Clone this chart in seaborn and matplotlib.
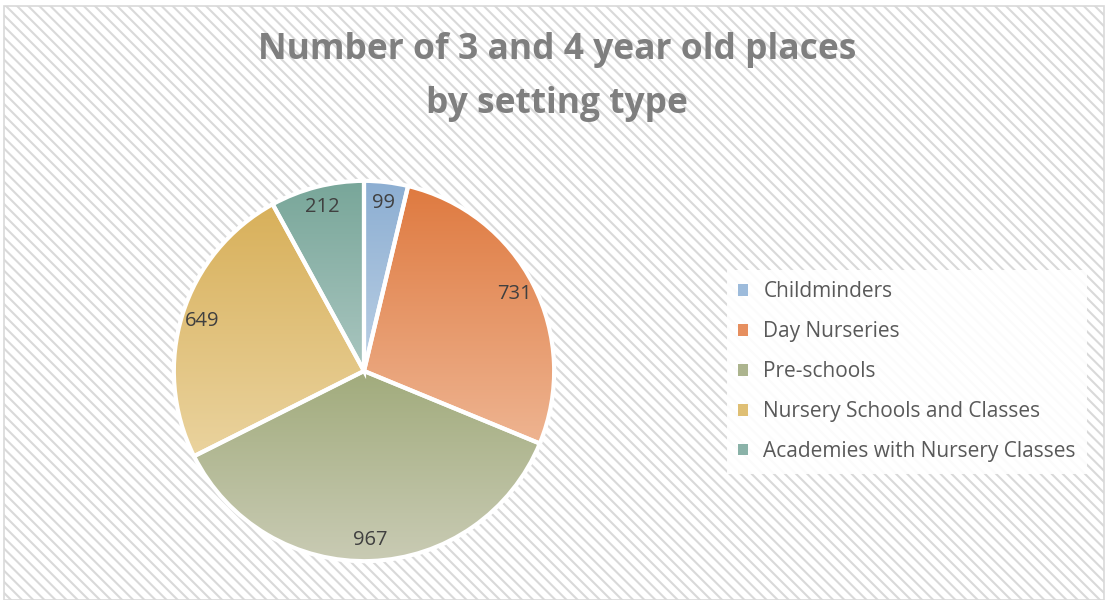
import seaborn as sns
import numpy as np
import matplotlib.pyplot as plt
from matplotlib.colors import LinearSegmentedColormap
from matplotlib.patches import Rectangle, Patch

categories = ['Childminders', 'Day Nurseries', 'Pre-schools',
              'Nursery Schools and Classes', 'Academies with Nursery Classes']
places = [99, 731, 967, 649, 212]
title = 'Number of 3 and 4 year old places\nby setting type'

# top / bottom colour of each wedge gradient
top_cols = ['#8CAED2', '#DF7A40', '#A1AB7C', '#D8B05A', '#78A699']
bot_cols = ['#BBD0E5', '#EEB491', '#C9CBB4', '#EAD39E', '#AAC6C0']
mid_cols = ['#9DBBDB', '#E68F5F', '#ACB48E', '#DFBF74', '#8AB2A8']

sns.set_theme(style='white')
plt.rcParams['font.family'] = ['Open Sans', 'DejaVu Sans']
plt.rcParams['hatch.linewidth'] = 1.5
plt.rcParams['hatch.color'] = '#EDEDED'

W, H = 1108, 600
fig = plt.figure(figsize=(W / 100, H / 100), dpi=100)
fig.patch.set_facecolor('white')

# striped background + thin border
bg = Rectangle((4 / W, 0), 1100 / W, 594 / H, transform=fig.transFigure,
               facecolor='white', edgecolor='#D9D9D9', linewidth=1.2,
               hatch='\\\\\\', zorder=-5)
fig.patches.append(bg)

fig.text(557 / W, 1 - 77 / H, title, ha='center', va='center', fontsize=25.5,
         fontweight='bold', color='#7F7F7F', linespacing=1.7)

ax = fig.add_axes([171 / W, 36 / H, 386 / W, 386 / H])
ax.set_zorder(2)
wedges, texts, autotexts = ax.pie(places, startangle=90, counterclock=False,
                                  autopct=lambda p: '{:.0f}'.format(p * sum(places) / 100),
                                  pctdistance=0.89, radius=1,
                                  wedgeprops=dict(edgecolor='white', linewidth=3),
                                  textprops=dict(color='#404040', fontsize=14.5))
ax.set_aspect('equal')
ax.axis('off')

# vertical gradient inside every wedge
for w, c1, c2 in zip(wedges, top_cols, bot_cols):
    bb = w.get_path().get_extents(w.get_patch_transform())
    cmap = LinearSegmentedColormap.from_list('g', [c2, c1])
    grad = np.linspace(0, 1, 256).reshape(-1, 1)
    im = ax.imshow(grad, cmap=cmap, origin='lower', aspect='auto',
                   extent=[bb.x0, bb.x1, bb.y0, bb.y1], zorder=1)
    im.set_clip_path(w)
    w.set_facecolor('none')
    w.set_zorder(2)
for t in autotexts:
    t.set_zorder(3)
ax.set_xlim(-1.015, 1.015)
ax.set_ylim(-1.015, 1.015)

handles = [Patch(facecolor=c, edgecolor='none') for c in mid_cols]
leg = fig.legend(handles, categories, loc='upper left',
                 bbox_to_anchor=(727 / W, 1 - 270 / H), frameon=True,
                 fontsize=15, labelcolor='#595959', handlelength=0.45,
                 handleheight=0.45, handletextpad=0.75, labelspacing=0.91,
                 borderpad=0.55, borderaxespad=0, fancybox=False)
leg.get_frame().set_facecolor('white')
leg.get_frame().set_edgecolor('none')
leg.get_frame().set_alpha(0.9)

fig.savefig('out.png', dpi=100)
